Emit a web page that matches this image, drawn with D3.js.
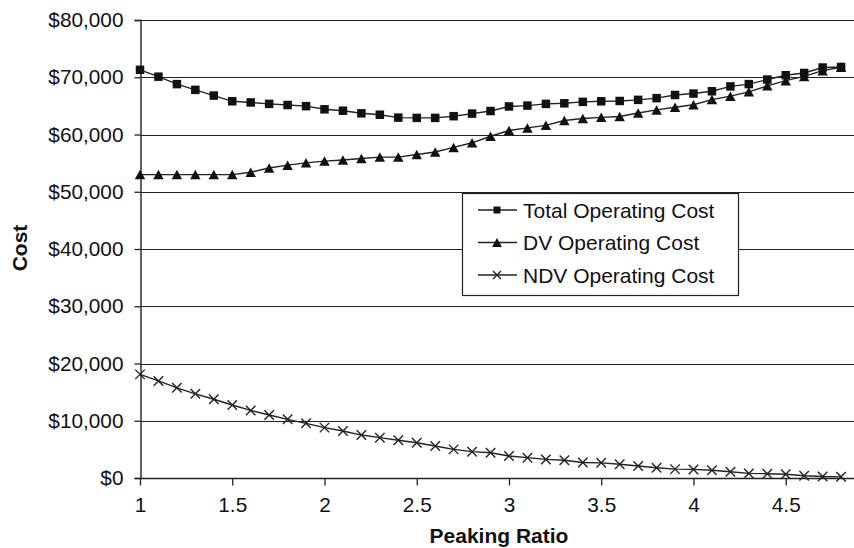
<!DOCTYPE html>
<html>
<head>
<meta charset="utf-8">
<script src="https://cdn.jsdelivr.net/npm/d3@7"></script>
<style>
  body { margin: 0; background: #fff; }
  svg { display: block; font-family: "Liberation Sans", Arial, sans-serif; }
</style>
</head>
<body>
<svg width="854" height="548"></svg>
<script>
// peaking ratio values (x)
const ratios = [1.0, 1.1, 1.2, 1.3, 1.4, 1.5, 1.6, 1.7, 1.8, 1.9,
  2.0, 2.1, 2.2, 2.3, 2.4, 2.5, 2.6, 2.7, 2.8, 2.9,
  3.0, 3.1, 3.2, 3.3, 3.4, 3.5, 3.6, 3.7, 3.8, 3.9,
  4.0, 4.1, 4.2, 4.3, 4.4, 4.5, 4.6, 4.7, 4.8];

const totalCost = [71300, 70100, 68800, 67800, 66800, 65800, 65600, 65350, 65150, 64950,
  64400, 64150, 63700, 63450, 62950, 62900, 62900, 63200, 63650, 64100,
  64900, 65050, 65350, 65450, 65700, 65800, 65850, 66050, 66350, 66900,
  67150, 67550, 68400, 68800, 69600, 70350, 70750, 71700, 71800];

const dvCost = [53000, 53000, 53000, 53000, 53000, 53000, 53400, 54150, 54650, 55050,
  55350, 55550, 55800, 56050, 56050, 56500, 56950, 57750, 58550, 59700,
  60700, 61150, 61600, 62450, 62800, 63000, 63150, 63750, 64300, 64750,
  65200, 66100, 66700, 67450, 68500, 69400, 70150, 71150, 71750];

const ndvCost = [18100, 16950, 15750, 14700, 13750, 12750, 11800, 11000, 10250, 9550,
  8800, 8200, 7500, 7050, 6600, 6150, 5600, 5000, 4600, 4400,
  3850, 3550, 3250, 3100, 2700, 2650, 2400, 2100, 1800, 1550,
  1500, 1350, 1100, 800, 750, 650, 400, 250, 200];

const seriesNames = ["Total Operating Cost", "DV Operating Cost", "NDV Operating Cost"];
const seriesMarkers = ["square", "triangle", "cross"];

const xTicks = [1, 1.5, 2, 2.5, 3, 3.5, 4, 4.5];
const yTicks = [0, 10000, 20000, 30000, 40000, 50000, 60000, 70000, 80000];

const svg = d3.select("svg");
const margin = { top: 20, right: 0, bottom: 70, left: 140 };
const width = 854 - margin.left - margin.right;
const height = 548 - margin.top - margin.bottom;

const x = d3.scaleLinear().domain([1, 4.87]).range([0, width]);
const y = d3.scaleLinear().domain([0, 80000]).range([height, 0]);

const g = svg.append("g").attr("transform", "translate(" + margin.left + "," + margin.top + ")");

// gridlines
g.append("g")
  .selectAll("line")
  .data(yTicks.slice(1))
  .enter().append("line")
  .attr("x1", 0).attr("x2", width)
  .attr("y1", d => Math.round(y(d)) + 0.5)
  .attr("y2", d => Math.round(y(d)) + 0.5)
  .attr("stroke", "#222").attr("stroke-width", 1.2);

// axes
const fmt = d => "$" + d3.format(",")(d);
const yAxis = g.append("g")
  .attr("transform", "translate(0.5,0)")
  .call(d3.axisLeft(y).tickValues(yTicks).tickFormat(fmt).tickSize(6).tickPadding(11));
const xAxis = g.append("g")
  .attr("transform", "translate(0," + (height + 0.5) + ")")
  .call(d3.axisBottom(x).tickValues(xTicks).tickFormat(d3.format("")).tickSize(7).tickPadding(12));

[xAxis, yAxis].forEach(ax => {
  ax.select(".domain").attr("stroke", "#222").attr("stroke-width", 1.4);
  ax.selectAll(".tick line").attr("stroke", "#222").attr("stroke-width", 1.3);
  ax.selectAll("text").attr("font-size", 20.8).attr("fill", "#111")
    .attr("font-family", "'Liberation Sans', Arial, sans-serif");
});
// x axis line spans full plot
xAxis.select(".domain").attr("d", "M0,0H" + width);

// axis titles
svg.append("text")
  .attr("x", 499).attr("y", 543)
  .attr("text-anchor", "middle")
  .attr("font-size", 21).attr("font-weight", "bold").attr("fill", "#111")
  .text("Peaking Ratio");

svg.append("text")
  .attr("transform", "translate(27,248) rotate(-90)")
  .attr("text-anchor", "middle")
  .attr("font-size", 21).attr("font-weight", "bold").attr("fill", "#111")
  .text("Cost");

// series
const allSeries = [totalCost, dvCost, ndvCost];
const line = d3.line()
  .x((d, i) => x(ratios[i]))
  .y(d => y(d));

function drawMarker(sel, type, size) {
  if (type === "square") {
    sel.append("rect")
      .attr("x", -size / 2).attr("y", -size / 2)
      .attr("width", size).attr("height", size)
      .attr("fill", "#111");
  } else if (type === "triangle") {
    const s = size / 2;
    sel.append("path")
      .attr("d", "M0," + (-s) + "L" + (s * 1.1) + "," + s + "L" + (-s * 1.1) + "," + s + "Z")
      .attr("fill", "#111");
  } else {
    const s = size / 2;
    sel.append("path")
      .attr("d", "M" + (-s) + "," + (-s) + "L" + s + "," + s + "M" + (-s) + "," + s + "L" + s + "," + (-s))
      .attr("stroke", "#222").attr("stroke-width", 1.4).attr("fill", "none");
  }
}

const markerSizes = [8.5, 9.5, 9.5];

allSeries.forEach((vals, k) => {
  g.append("path")
    .datum(vals)
    .attr("d", line)
    .attr("fill", "none")
    .attr("stroke", "#222")
    .attr("stroke-width", 1.4);

  g.append("g")
    .selectAll("g")
    .data(vals)
    .enter().append("g")
    .attr("transform", (d, i) => "translate(" + x(ratios[i]) + "," + y(d) + ")")
    .each(function () { drawMarker(d3.select(this), seriesMarkers[k], markerSizes[k]); });
});

// legend
const legend = svg.append("g").attr("transform", "translate(462,193)");
legend.append("rect")
  .attr("x", 0.5).attr("y", 0.5)
  .attr("width", 276).attr("height", 102)
  .attr("fill", "#fff").attr("stroke", "#222").attr("stroke-width", 1.2);

seriesNames.forEach((name, k) => {
  const row = legend.append("g").attr("transform", "translate(0," + (17 + k * 32.5) + ")");
  row.append("line")
    .attr("x1", 16).attr("x2", 55)
    .attr("stroke", "#222").attr("stroke-width", 1.4);
  const m = row.append("g").attr("transform", "translate(35,0)");
  drawMarker(m, seriesMarkers[k], [7, 9, 8][k]);
  row.append("text")
    .attr("x", 61).attr("y", 7.5)
    .attr("font-size", 21).attr("fill", "#111")
    .text(name);
});
</script>
</body>
</html>
